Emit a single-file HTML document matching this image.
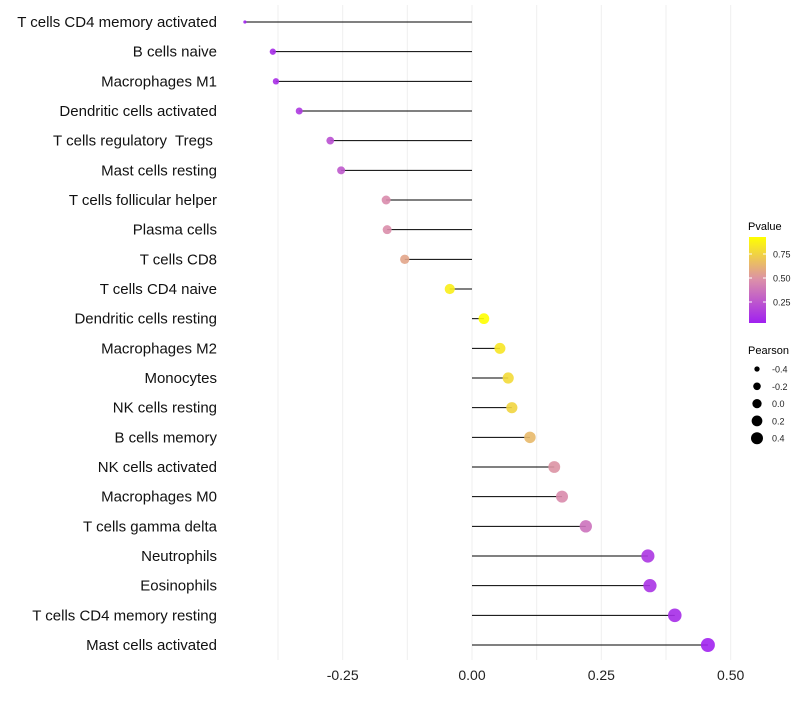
<!DOCTYPE html>
<html><head><meta charset="utf-8"><style>
body{margin:0;background:#fff;font-family:"Liberation Sans",sans-serif}
svg text{font-family:"Liberation Sans",sans-serif;white-space:pre}
</style></head><body>
<svg id="chart" width="800" height="700" xmlns="http://www.w3.org/2000/svg">
<defs><linearGradient id="pg" x1="0" y1="1" x2="0" y2="0">
<stop offset="0" stop-color="#A020F0"/><stop offset="0.5" stop-color="#DB8FAA"/><stop offset="1" stop-color="#FFFF00"/>
</linearGradient></defs>
<g id="grid"></g>
<g id="marks"></g>
<g id="labels"></g>
<g id="xticks"></g>
<g>
<text x="748" y="230" font-size="11">Pvalue</text>
<rect x="749" y="237" width="17" height="86" fill="url(#pg)"/>
<g id="cticks"></g>
</g>
<g id="sizeleg">
<text x="748" y="354" font-size="11">Pearson</text>
</g>
</svg>
<script>
const categories=["T cells CD4 memory activated","B cells naive","Macrophages M1","Dendritic cells activated","T cells regulatory  Tregs ","Mast cells resting","T cells follicular helper","Plasma cells","T cells CD8","T cells CD4 naive","Dendritic cells resting","Macrophages M2","Monocytes","NK cells resting","B cells memory","NK cells activated","Macrophages M0","T cells gamma delta","Neutrophils","Eosinophils","T cells CD4 memory resting","Mast cells activated"];
const pearson=[-0.439,-0.385,-0.379,-0.334,-0.274,-0.253,-0.166,-0.164,-0.130,-0.043,0.023,0.054,0.070,0.077,0.112,0.159,0.174,0.220,0.340,0.344,0.392,0.456];
const pvalues=[0.05,0.09,0.10,0.14,0.23,0.27,0.47,0.48,0.57,0.86,0.93,0.83,0.78,0.76,0.65,0.50,0.47,0.37,0.13,0.12,0.09,0.05];
const xTicks=[-0.25,0,0.25,0.5];
const xTickLabels=["-0.25","0.00","0.25","0.50"];
const colorTicks=[0.25,0.5,0.75];
const sizeLegend=[-0.4,-0.2,0.0,0.2,0.4];
const NS="http://www.w3.org/2000/svg";
const x=v=>472+v*517.3;
const y=i=>22+i*29.667;
const cy=p=>278-(p-0.5)*96;
const r=v=>v<-0.42?1.6:Math.sqrt(Math.max(2.5,27.8+46.5*v));
function lerp(a,b,t){return a.map((c,i)=>Math.round(c+(b[i]-c)*t));}
function col(p){const t=Math.max(0,Math.min(1,(p-0.042)/(0.927-0.042)));
const A=[160,32,240],M=[219,143,170],B=[255,255,0];
const c=t<0.5?lerp(A,M,t/0.5):lerp(M,B,(t-0.5)/0.5);return `rgb(${c})`;}
function mk(tag,at,parent){const e=document.createElementNS(NS,tag);for(const k in at)e.setAttribute(k,at[k]);parent.appendChild(e);return e;}
const grid=document.getElementById('grid'),marks=document.getElementById('marks'),labels=document.getElementById('labels'),xt=document.getElementById('xticks');
for(let g=-0.375;g<=0.51;g+=0.125){const l=mk('line',{x1:x(g),x2:x(g),y1:5,y2:660,stroke:'#efefef','stroke-width':1},grid);

}
categories.forEach((c,i)=>{
const ln=mk('line',{x1:x(0),x2:x(pearson[i]),y1:y(i),y2:y(i),stroke:'#000','stroke-width':1},marks);


const pt=mk('circle',{cx:x(pearson[i]),cy:y(i),r:r(pearson[i]),fill:col(pvalues[i]),'fill-opacity':0.9},marks);


const t=mk('text',{x:217,y:y(i)+5,'text-anchor':'end','font-size':15,fill:'#111'},labels);t.textContent=c;


});
xTicks.forEach((v,i)=>{const t=mk('text',{x:x(v),y:680,'text-anchor':'middle','font-size':14,fill:'#222'},xt);t.textContent=xTickLabels[i];

});
const ct=document.getElementById('cticks');
colorTicks.forEach(p=>{mk('line',{x1:749,x2:752,y1:cy(p),y2:cy(p),stroke:'#fff'},ct);mk('line',{x1:763,x2:766,y1:cy(p),y2:cy(p),stroke:'#fff'},ct);
const t=mk('text',{x:773,y:cy(p)+3.5,'font-size':9,fill:'#222'},ct);t.textContent=p.toFixed(2);

});
const sl=document.getElementById('sizeleg');
const lr=[2.6,3.8,4.6,5.4,6.1];
sizeLegend.forEach((v,i)=>{const yy=369+i*17.3;
const c=mk('circle',{cx:757,cy:yy,r:Math.min(6.1,r(v)*0.88),fill:'#000'},sl);


const t=mk('text',{x:772,y:yy+3.5,'font-size':9,fill:'#222'},sl);t.textContent=v.toFixed(1);

});
</script>
</body></html>
